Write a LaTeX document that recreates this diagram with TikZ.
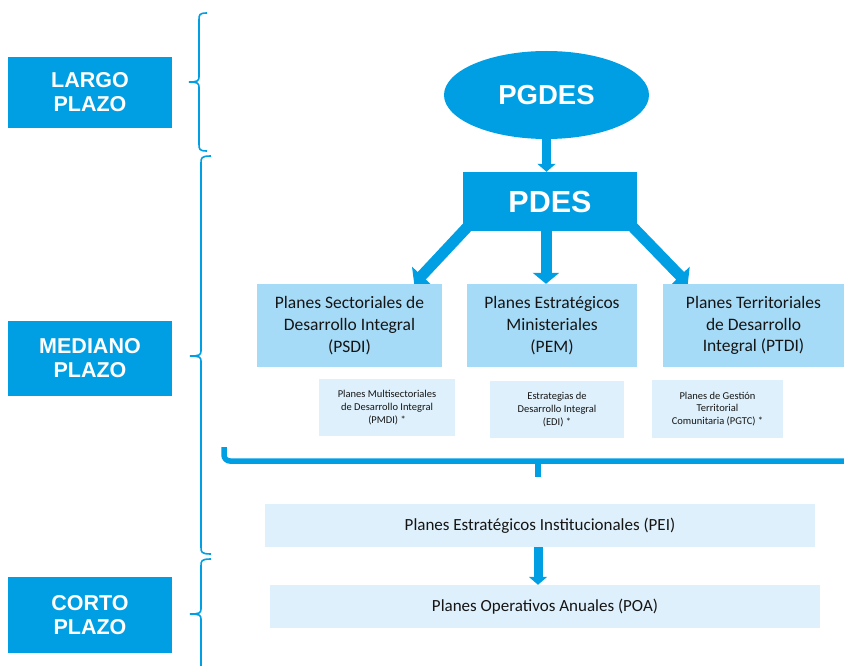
\documentclass[tikz,border=0pt]{standalone}
\usepackage{fontspec}
\setmainfont{Carlito}
\newfontfamily\arialf{Liberation Sans}
\usetikzlibrary{arrows.meta,calc,shapes.geometric}
\pgfdeclarelayer{bg}
\pgfsetlayers{bg,main}
\definecolor{dblue}{HTML}{009FE3}
\definecolor{mblue}{HTML}{A6DBF7}
\definecolor{lblue}{HTML}{DEF0FB}
\definecolor{txt}{HTML}{151515}
\begin{document}
\begin{tikzpicture}[x=1bp,y=-1bp,
  termbox/.style={fill=dblue, text=white, draw=none, inner sep=0pt, align=center,
    minimum width=164bp, font=\arialf\bfseries\fontsize{21.5bp}{24bp}\selectfont},
  bigbox/.style={fill=dblue, text=white, draw=none, inner sep=0pt, align=center},
  midbox/.style={fill=mblue, text=txt, draw=none, inner sep=0pt, align=center,
    minimum height=83bp, font=\fontsize{17.5bp}{21.7bp}\selectfont},
  smallbox/.style={fill=lblue, text=txt, draw=none, inner sep=0pt, align=center,
    minimum height=57bp, font=\fontsize{10.5bp}{12.8bp}\selectfont},
  widebox/.style={fill=lblue, text=txt, draw=none, inner sep=0pt, align=center,
    minimum width=550bp, minimum height=43bp, font=\fontsize{17bp}{20bp}\selectfont},
  bigarrow/.style={draw=dblue, line width=11bp, -{Triangle[length=11bp,width=26bp]}},
  smallarrow/.style={draw=dblue, line width=9bp, -{Triangle[length=8bp,width=18bp]}},
  bracebar/.style={draw=dblue, line width=5.5bp},
  bracel/.style={draw=dblue, line width=1.6bp}
]
\useasboundingbox (0,0) rectangle (844,666);

% term boxes
\node[termbox, minimum height=71bp] (largo) at (90,92.5) {LARGO\\PLAZO};
\node[termbox, minimum height=75bp] (mediano) at (90,358.5) {MEDIANO\\PLAZO};
\node[termbox, minimum height=76bp] (corto) at (90,615) {CORTO\\PLAZO};

% braces
\draw[bracel] (207,13) .. controls (199,13) and (199,15) .. (199,20) -- (199,77)
  .. controls (199,81) and (197,82) .. (189,82) .. controls (197,82) and (199,83) .. (199,87)
  -- (199,144) .. controls (199,149) and (199,151) .. (207,151);
\draw[bracel] (211,156) .. controls (201,156) and (201,158) .. (201,163) -- (201,351)
  .. controls (201,355) and (199,356) .. (190,356) .. controls (199,356) and (201,357) .. (201,361)
  -- (201,547) .. controls (201,552) and (201,554) .. (211,554);
\draw[bracel] (211,559) .. controls (201,559) and (201,561) .. (201,566) -- (201,609)
  .. controls (201,613) and (199,614) .. (190,614) .. controls (199,614) and (201,615) .. (201,619)
  -- (201,670);

% main nodes
\node[bigbox, ellipse, minimum width=205bp, minimum height=88bp,
  font=\arialf\bfseries\fontsize{27.5bp}{32bp}\selectfont] (pgdes) at (546.5,95) {PGDES};
\node[bigbox, minimum width=174bp, minimum height=59bp,
  font=\arialf\bfseries\fontsize{30.5bp}{34bp}\selectfont] (pdes) at (550,201.5) {PDES};

\node[midbox, minimum width=185bp] (psdi) at (349.5,325.5) {Planes Sectoriales de\\Desarrollo Integral\\(PSDI)};
\node[midbox, minimum width=170bp] (pem) at (552,325.5) {Planes Estratégicos\\Ministeriales\\(PEM)};
\node[midbox, minimum width=181bp] (ptdi) at (753.5,325.5) {Planes Territoriales\\de Desarrollo\\Integral (PTDI)};

\node[smallbox, minimum width=136bp] (pmdi) at (387,407.5) {Planes Multisectoriales\\de Desarrollo Integral\\(PMDI) *};
\node[smallbox, minimum width=134bp] (edi) at (557,409.5) {Estrategias de\\Desarrollo Integral\\(EDI) *};
\node[smallbox, minimum width=131bp, minimum height=58bp] (pgtc) at (717.5,409) {Planes de Gestión\\Territorial\\Comunitaria (PGTC) *};

\node[widebox] (pei) at (540,525.5) {Planes Estratégicos Institucionales (PEI)};
\node[widebox] (poa) at (545,606.5) {Planes Operativos Anuales (POA)};

% arrows
\coordinate (pgdesb) at ($(pgdes.south)+(0,-2)$);
\draw[smallarrow] (pgdesb) -- (pgdesb |- pdes.north);

\coordinate (pdesL) at ($(pdes.south west)+(10,-10)$);
\coordinate (pdesR) at ($(pdes.south east)+(-10,-10)$);
\coordinate (psdiT) at ($(psdi.north east)+(-28,0)$);
\coordinate (ptdiT) at ($(ptdi.north west)+(25,0)$);
\coordinate (pdesM) at ($(pdes.south)+(-4,0)$);
\begin{pgfonlayer}{bg}
\draw[bigarrow] (pdesL) -- (psdiT);
\draw[bigarrow] (pdesR) -- (ptdiT);
\draw[bigarrow] (pdesM) -- (pdesM |- pem.north);
\end{pgfonlayer}

% horizontal bracket bar
\coordinate (barL) at (224,447);
\coordinate (barC) at (224,461);
\coordinate (barR) at (846,461);
\coordinate (stemT) at (538,461);
\coordinate (stemB) at (538,477);
\draw[bracebar, rounded corners=6bp] (barL) -- (barC) -- (barR);
\draw[draw=dblue, line width=6bp] (stemT) -- (stemB);

% PEI -> POA
\coordinate (peib) at (538,547);
\draw[smallarrow] (peib |- pei.south) -- (peib |- poa.north);
\end{tikzpicture}
\end{document}
